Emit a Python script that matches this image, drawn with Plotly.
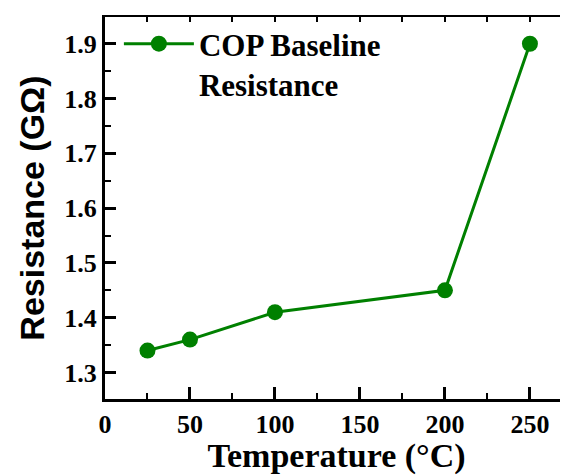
import plotly.graph_objects as go

temperature = [25, 50, 100, 200, 250]
resistance = [1.34, 1.36, 1.41, 1.45, 1.90]
series_name = "COP Baseline<br>Resistance"

green = "#008000"
serif = "Liberation Serif"

fig = go.Figure()
fig.add_trace(go.Scatter(
    x=temperature, y=resistance, mode="lines+markers", name=series_name,
    line=dict(color=green, width=3),
    marker=dict(color=green, size=16),
))
# top axis with short ticks only
fig.add_trace(go.Scatter(x=[None], y=[None], xaxis="x2", showlegend=False))

# page has an 8px body margin; figure sized to fit the 568x475 window
x_range = [0, 272.4]
y_range = [1.2516, 1.9488]
fig.update_layout(
    width=560, height=467,
    margin=dict(l=97, r=0, t=9, b=76),
    paper_bgcolor="white", plot_bgcolor="white",
    showlegend=True,
    legend=dict(x=0.03, y=1.0, xanchor="left", yanchor="top",
                bgcolor="rgba(0,0,0,0)", valign="top", itemwidth=70, tracegroupgap=0,
                font=dict(family=serif, size=31, color="black", weight="bold")),
    xaxis=dict(range=x_range, tick0=0, dtick=50, ticks="inside", ticklen=12, tickwidth=2.5,
               tickcolor="black", showline=True, linecolor="black", linewidth=3,
               showgrid=False, zeroline=False, automargin=False,
               minor=dict(dtick=25, ticks="inside", ticklen=6, tickwidth=2, tickcolor="black"),
               tickfont=dict(family=serif, size=26, color="black", weight="bold"),
               title=dict(text="Temperature (\u00b0C)", standoff=0,
                          font=dict(family=serif, size=34, color="black", weight="bold"))),
    xaxis2=dict(range=x_range, overlaying="x", side="top", tick0=0, dtick=25,
                ticks="inside", ticklen=5, tickwidth=2, tickcolor="black",
                showticklabels=False, showline=True, linecolor="black", linewidth=2,
                showgrid=False, zeroline=False, automargin=False),
    yaxis=dict(range=y_range, tick0=1.3, dtick=0.1, ticks="inside", ticklen=11,
               tickwidth=2.5, tickcolor="black", showline=True, linecolor="black",
               linewidth=3, showgrid=False, zeroline=False, tickformat=".1f", automargin=False,
               minor=dict(dtick=0.05, ticks="inside", ticklen=6, tickwidth=2, tickcolor="black"),
               tickfont=dict(family=serif, size=26, color="black", weight="bold"),
               title=dict(text="Resistance (G\u03a9)", standoff=10,
                          font=dict(family="Liberation Sans", size=34, color="black", weight="bold"))),
)

fig.write_html("out.html")
